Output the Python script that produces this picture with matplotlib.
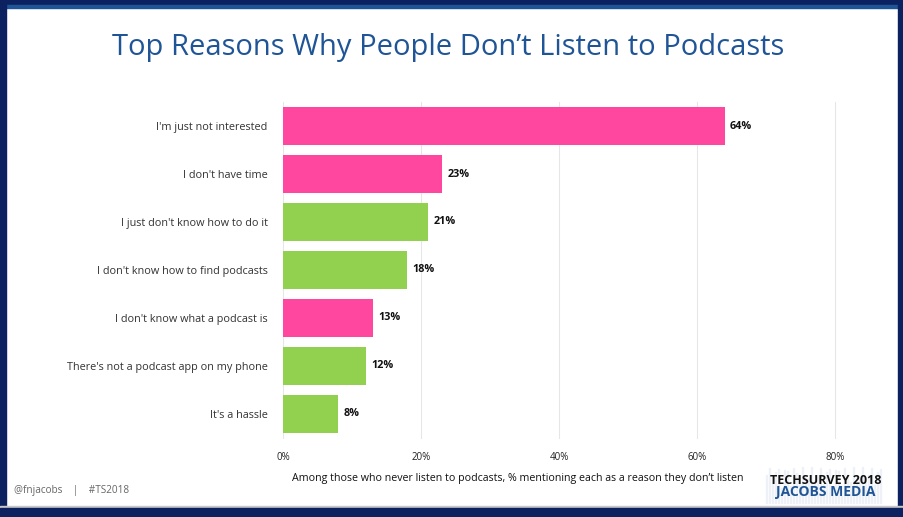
import numpy as np
import matplotlib.pyplot as plt
import matplotlib.patches as patches

reasons = ["I'm just not interested", "I don't have time", "I just don't know how to do it",
           "I don't know how to find podcasts", "I don't know what a podcast is",
           "There's not a podcast app on my phone", "It's a hassle"]
values = [64, 23, 21, 18, 13, 12, 8]
highlight = [True, True, False, False, True, False, False]
xticks = [0, 20, 40, 60, 80]

pink = '#FF479F'
green = '#92D050'
navy = '#0B2160'

fig = plt.figure(figsize=(9.04, 5.17), dpi=100)
plt.rcParams['font.family'] = ['Open Sans', 'DejaVu Sans']

# frame
W, H = 904, 517
def rect(x, y, w, h, c):
    fig.patches.append(patches.Rectangle((x / W, 1 - (y + h) / H), w / W, h / H,
                                         transform=fig.transFigure, color=c, zorder=0))
rect(0, 0, W, 5, navy)
rect(0, 5, W, 3, '#1F5596')
rect(0, 0, 6, H, navy)
rect(W - 6, 0, 6, H, navy)
rect(0, 506, W, 2, '#C8C8C8')
rect(0, 508, W, 9, navy)

fig.text(448 / W, 1 - 48 / H, "Top Reasons Why People Don\u2019t Listen to Podcasts",
         ha='center', va='center', fontsize=21, color='#1F5596')

ax = fig.add_axes([283 / W, 1 - 438 / H, (835 - 283) / W, (438 - 102) / H])
y = np.arange(len(reasons))
colors = [pink if h else green for h in highlight]
ax.barh(y, values, height=0.8, color=colors, zorder=3)
for yi, v in zip(y, values):
    ax.text(v + 0.8, yi, f'{v}%', va='center', ha='left', fontsize=7.8,
            fontweight='bold', color='#111111')
ax.set_xlim(0, 80)
ax.set_ylim(len(reasons) - 0.5, -0.5)
ax.set_xticks(xticks)
ax.set_xticklabels([f'{t}%' for t in xticks], fontsize=7, color='#222222')
ax.set_yticks(y)
ax.set_yticklabels(reasons, fontsize=7.8, color='#333333')
ax.tick_params(length=0, pad=11)
ax.tick_params(axis='x', pad=10)
ax.grid(axis='x', color='#E6E6E6', linewidth=0.75, zorder=0)
for gl in ax.get_xgridlines():
    gl.set_clip_on(False)
for s in ax.spines.values():
    s.set_visible(False)

fig.text(518 / W, 1 - 479 / H,
         "Among those who never listen to podcasts, % mentioning each as a reason they don\u2019t listen",
         ha='center', va='center', fontsize=7.7, color='#111111')
fig.text(14 / W, 1 - 490 / H, "@fnjacobs    |    #TS2018", ha='left', va='center',
         fontsize=7.2, color='#666666')

# logo
logo_x = np.arange(766, 882, 3)
for lx in logo_x:
    hgt = 14 + 22 * abs(np.sin(lx * 0.37))
    rect(lx, 503 - hgt, 1, hgt, '#EEF2F8')
fig.text(826 / W, 1 - 480 / H, "TECHSURVEY 2018", ha='center', va='center',
         fontsize=9, color='#111111', fontweight='bold', zorder=5)
fig.text(826 / W, 1 - 492 / H, "JACOBS MEDIA", ha='center', va='center',
         fontsize=10, color='#1F5596', fontweight='bold', zorder=5)

fig.savefig('out.png', dpi=100)
